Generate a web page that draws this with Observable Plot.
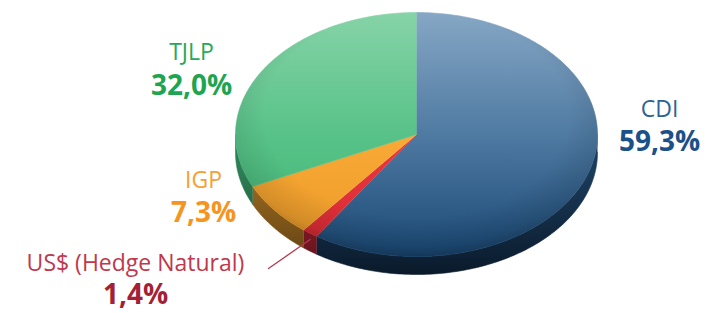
<!DOCTYPE html>
<html><head><meta charset="utf-8">
<script src="https://cdn.jsdelivr.net/npm/d3@7"></script>
<script src="https://cdn.jsdelivr.net/npm/@observablehq/plot@0.6"></script>
<style>html,body{margin:0;padding:0;background:#fff;overflow:hidden}</style>
</head><body><div id="chart"></div>
<script>
// ---- data ----
const categories = ["CDI", "US$ (Hedge Natural)", "IGP", "TJLP"];
const keys = ["cdi", "usd", "igp", "tjlp"];
const values = [59.3, 1.4, 7.3, 32.0];
const valueLabels = ["59,3%", "1,4%", "7,3%", "32,0%"];

// ---- styles / layout ----
const W = 709, H = 313;
const geo = {cx: 416, cy: 134, rx: 181, ry: 122, depth: 18};
const colors = {
  cdi:  {top: ["#86a7c5", "#4f7aa2", "#1a4976"], side: ["#1b3b5b", "#0a1a2b"], name: "#2e6395", value: "#1c5088"},
  usd:  {top: ["#f0545c", "#e8373f", "#d92a33"], side: ["#9a2230", "#5e1119"], name: "#c0384c", value: "#a51f36"},
  igp:  {top: ["#fbb647", "#f9a935", "#eb9a28"], side: ["#9d6c22", "#5b3c10"], name: "#f6a033", value: "#f7941d"},
  tjlp: {top: ["#86d3a7", "#58c288", "#3cb571"], side: ["#2c7e54", "#18492f"], name: "#26a85c", value: "#1ea552"}
};
const labelLayout = {
  cdi:  {x: 659, yName: 109, yValue: 142},
  usd:  {x: 135, yName: 263, yValue: 295},
  igp:  {x: 203, yName: 180, yValue: 213},
  tjlp: {x: 191, yName: 52,  yValue: 86}
};
const leaderStart = {x: 268, y: 268};
const font = "'Open Sans', 'Noto Sans', sans-serif";

// ---- geometry from data ----
const arcs = d3.pie().sort(null).startAngle(0).endAngle(2 * Math.PI)(values);
const pt = (a, dy = 0) => ({x: geo.cx + geo.rx * Math.sin(a), y: geo.cy - geo.ry * Math.cos(a) + dy});
function arcPts(a0, a1, dy) {
  const n = Math.max(2, Math.ceil((a1 - a0) / (Math.PI / 180)));
  return d3.range(n + 1).map(i => pt(a0 + (a1 - a0) * i / n, dy));
}
const slices = arcs.map((a, i) => {
  const top = [{x: geo.cx, y: geo.cy}, ...arcPts(a.startAngle, a.endAngle, 0)];
  const s0 = Math.max(a.startAngle, Math.PI / 2), s1 = Math.min(a.endAngle, 3 * Math.PI / 2);
  const side = s1 > s0 ? [...arcPts(s0, s1, 0), ...arcPts(s0, s1, geo.depth).reverse()] : null;
  return {key: keys[i], name: categories[i], label: valueLabels[i], arc: a, top, side};
});
const fullRim = arcPts(0, 2 * Math.PI, 0);

// ---- gradient defs (custom render mark) ----
function defsMark() {
  const defs = d3.create("svg:defs");
  for (const k of keys) {
    const c = colors[k];
    const lg = defs.append("linearGradient").attr("id", "top-" + k)
      .attr("gradientUnits", "userSpaceOnUse").attr("x1", 0).attr("x2", 0)
      .attr("y1", geo.cy - geo.ry).attr("y2", geo.cy + geo.ry);
    lg.append("stop").attr("offset", 0).attr("stop-color", c.top[0]);
    lg.append("stop").attr("offset", 0.5).attr("stop-color", c.top[1]);
    lg.append("stop").attr("offset", 1).attr("stop-color", c.top[2]);
    const sg = defs.append("linearGradient").attr("id", "side-" + k)
      .attr("gradientUnits", "userSpaceOnUse").attr("x1", 0).attr("x2", 0)
      .attr("y1", geo.cy + geo.ry * 0.3).attr("y2", geo.cy + geo.ry + geo.depth);
    sg.append("stop").attr("offset", 0).attr("stop-color", c.side[0]);
    sg.append("stop").attr("offset", 1).attr("stop-color", c.side[1]);
  }
  const rg = defs.append("radialGradient").attr("id", "rim")
    .attr("cx", 0.5).attr("cy", 0.42).attr("r", 0.6);
  rg.append("stop").attr("offset", 0.7).attr("stop-color", "#000").attr("stop-opacity", 0);
  rg.append("stop").attr("offset", 0.9).attr("stop-color", "#000").attr("stop-opacity", 0.12);
  rg.append("stop").attr("offset", 1).attr("stop-color", "#000").attr("stop-opacity", 0.3);
  return defs.node();
}

const marks = [defsMark];
for (const s of slices) if (s.side) {
  marks.push(Plot.line(s.side, {x: "x", y: "y", fill: `url(#side-${s.key})`, stroke: `url(#side-${s.key})`, strokeWidth: 0.6}));
}
for (const s of slices) {
  marks.push(Plot.line(s.top, {x: "x", y: "y", fill: `url(#top-${s.key})`, stroke: `url(#top-${s.key})`, strokeWidth: 0.6}));
}
marks.push(Plot.line(fullRim, {x: "x", y: "y", fill: "url(#rim)", stroke: "none"}));

// leader line for US$
const us = slices[1];
const mid = (us.arc.startAngle + us.arc.endAngle) / 2;
marks.push(Plot.line([leaderStart, pt(mid, geo.depth * 0.35)], {x: "x", y: "y", stroke: "#b8394c", strokeWidth: 1.3}));

for (const s of slices) {
  const L = labelLayout[s.key], c = colors[s.key];
  marks.push(Plot.text([s.name], {x: () => L.x, y: () => L.yName, text: d => d, fill: c.name, fontSize: 23, fontFamily: font, fontWeight: 400, textAnchor: "middle"}));
  marks.push(Plot.text([s.label], {x: () => L.x, y: () => L.yValue, text: d => d, fill: c.value, fontSize: 28, fontFamily: font, fontWeight: 700, textAnchor: "middle"}));
}

const chart = Plot.plot({
  width: W, height: H, margin: 0,
  x: {domain: [0, W], range: [0, W], axis: null},
  y: {domain: [0, H], range: [0, H], axis: null},
  style: {background: "#fff"},
  marks
});
document.getElementById("chart").appendChild(chart);
</script>
</body></html>
